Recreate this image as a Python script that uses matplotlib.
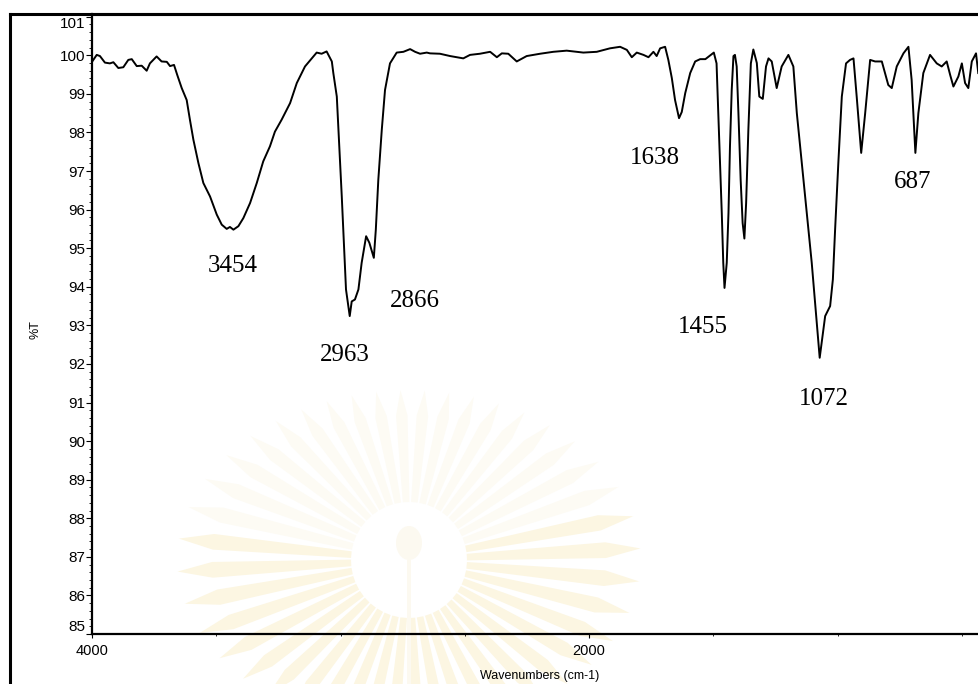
import matplotlib
matplotlib.use("Agg")
import numpy as np
import matplotlib.pyplot as plt
from matplotlib.ticker import MultipleLocator, FixedLocator
from matplotlib.lines import Line2D
from matplotlib.patches import Polygon, Ellipse

# ---- data: FT-IR spectrum (wavenumber cm-1, %T) ----
wavenumber = [4000, 3981, 3968, 3948, 3928, 3914, 3894, 3874, 3854, 3840, 3820, 3800, 3780, 3767,
              3740, 3720, 3699, 3686, 3670, 3657, 3639, 3619, 3606, 3592, 3572, 3552, 3525, 3498,
              3478, 3458, 3445, 3431, 3411, 3391, 3364, 3337, 3311, 3284, 3264, 3237, 3203, 3176,
              3143, 3109, 3096, 3076, 3056, 3035, 3029, 3015, 3005, 2995, 2986, 2978, 2963, 2955,
              2942, 2928, 2915, 2897, 2884, 2866, 2858, 2848, 2834, 2821, 2801, 2774, 2747, 2720,
              2700, 2680, 2653, 2640, 2600, 2559, 2506, 2479, 2439, 2398, 2371, 2351, 2325, 2291,
              2251, 2197, 2144, 2090, 2023, 1969, 1916, 1875, 1848, 1828, 1808, 1781, 1761, 1741,
              1728, 1714, 1694, 1681, 1667, 1654, 1638, 1627, 1613, 1593, 1573, 1553, 1532, 1512,
              1498, 1487, 1480, 1473, 1466, 1460, 1455, 1446, 1439, 1433, 1426, 1419, 1413, 1406,
              1399, 1390, 1382, 1375, 1368, 1359, 1349, 1339, 1325, 1315, 1301, 1288, 1278, 1265,
              1245, 1225, 1198, 1178, 1164, 1144, 1124, 1104, 1087, 1072, 1050, 1030, 1019, 1010,
              997, 983, 966, 950, 936, 923, 905, 889, 869, 849, 822, 796, 782, 762, 735, 715, 702,
              687, 675, 655, 628, 601, 581, 561, 547, 534, 514, 500, 487, 474, 460, 443, 434]
transmittance = [99.83, 100.01, 99.98, 99.81, 99.79, 99.82, 99.67, 99.69, 99.88, 99.90, 99.72, 99.73,
                 99.60, 99.79, 99.97, 99.84, 99.83, 99.72, 99.75, 99.49, 99.15, 98.84, 98.33, 97.81,
                 97.21, 96.69, 96.34, 95.87, 95.61, 95.50, 95.55, 95.48, 95.57, 95.78, 96.17, 96.69,
                 97.25, 97.64, 98.02, 98.33, 98.76, 99.28, 99.71, 99.97, 100.07, 100.04, 100.10, 99.84,
                 99.54, 98.93, 97.64, 96.34, 95.05, 93.93, 93.24, 93.62, 93.67, 93.93, 94.62, 95.31,
                 95.14, 94.75, 95.48, 96.77, 98.07, 99.10, 99.79, 100.07, 100.09, 100.16, 100.09,
                 100.04, 100.07, 100.05, 100.04, 99.98, 99.92, 100.01, 100.04, 100.09, 99.95, 100.05,
                 100.04, 99.84, 99.98, 100.04, 100.09, 100.12, 100.07, 100.09, 100.18, 100.22, 100.14,
                 99.95, 100.07, 100.01, 99.95, 100.09, 99.98, 100.18, 100.22, 99.88, 99.41, 98.84,
                 98.37, 98.53, 99.02, 99.54, 99.84, 99.90, 99.90, 100.00, 100.07, 99.79, 98.50, 97.21,
                 95.91, 94.62, 93.97, 94.62, 95.91, 97.64, 99.10, 99.98, 100.01, 99.71, 98.50, 96.77,
                 95.65, 95.25, 96.17, 98.07, 99.79, 100.15, 99.80, 98.93, 98.87, 99.71, 99.92, 99.84,
                 99.15, 99.71, 100.01, 99.71, 98.50, 97.21, 95.91, 94.62, 93.32, 92.16, 93.24, 93.50,
                 94.19, 95.48, 97.21, 98.93, 99.79, 99.88, 99.92, 98.92, 97.47, 98.50, 99.88, 99.84,
                 99.84, 99.23, 99.15, 99.71, 100.05, 100.22, 99.36, 97.47, 98.50, 99.54, 100.01, 99.79,
                 99.71, 99.84, 99.49, 99.19, 99.45, 99.79, 99.28, 99.15, 99.84, 100.05, 99.54]

# peak labels
peak_labels = ["3454", "2963", "2866", "1638", "1455", "1072", "687"]
label_x = [3433, 2982, 2700, 1734, 1541, 1054, 700]
label_y = [94.55, 92.22, 93.64, 97.34, 92.97, 91.08, 96.72]

y_ticks = list(range(85, 102))
x_ticks = [4000, 2000]

plt.rcParams['font.family'] = ['Liberation Sans', 'DejaVu Sans']

W, H = 979, 684
fig = plt.figure(figsize=(W / 100, H / 100), dpi=100)

# ---- very faint sunburst watermark behind the chart ----
wm = fig.add_axes([0, 0, 1, 1], zorder=0)
wm.set_xlim(0, W)
wm.set_ylim(H, 0)
wm.axis('off')
cx, cy = 409, 560
n_rays = 44
for k in range(n_rays):
    th = 2 * np.pi * k / n_rays + 0.05
    half = np.pi / n_rays * 0.8
    r0 = 58
    a, b = 232, 170
    dirx, diry = np.cos(th), -np.sin(th)
    rout = 1.0 / np.sqrt((dirx / a) ** 2 + (diry / b) ** 2)
    p1 = (cx + r0 * np.cos(th - half), cy - r0 * np.sin(th - half))
    p2 = (cx + r0 * np.cos(th + half), cy - r0 * np.sin(th + half))
    pm = (cx + rout * 0.85 * np.cos(th + half * 0.7), cy - rout * 0.85 * np.sin(th + half * 0.7))
    tip = (cx + rout * dirx, cy + rout * diry)
    pn = (cx + rout * 0.85 * np.cos(th - half * 0.7), cy - rout * 0.85 * np.sin(th - half * 0.7))
    s = np.sin(th)
    col = '#fdfbf4' if s > 0.2 else '#fcf6e2'
    wm.add_patch(Polygon([p1, pn, tip, pm, p2], closed=True, facecolor=col,
                         edgecolor='none'))
wm.add_patch(Ellipse((cx, cy - 17), 26, 34, facecolor='#fcf9f0', edgecolor='none'))
wm.add_patch(Polygon([(cx - 2, cy), (cx + 2, cy), (cx + 2, H), (cx - 2, H)],
                     facecolor='#fcf9f0', edgecolor='none'))

ax = fig.add_axes([92 / W, 1 - 634 / H, 1 - 92 / W, (634 - 14) / H], zorder=1)
ax.patch.set_alpha(0)

ax.plot(wavenumber, transmittance, color='black', lw=1.4)

ax.set_xlim(4000, 431)
ax.set_ylim(85, 101.07)

ax.xaxis.set_major_locator(FixedLocator(x_ticks))
ax.xaxis.set_minor_locator(MultipleLocator(500))
ax.yaxis.set_major_locator(FixedLocator(y_ticks))
ax.yaxis.set_minor_locator(MultipleLocator(0.2))

ax.tick_params(axis='y', which='major', direction='out', length=4, width=0.8,
               labelsize=11, pad=1)
ax.tick_params(axis='y', which='minor', direction='out', length=2, width=0.6)
ax.tick_params(axis='x', which='major', direction='out', length=3, width=0.8,
               labelsize=10.5, pad=4)
ax.tick_params(axis='x', which='minor', direction='out', length=1.5, width=0.6)

ax.set_yticklabels([str(v) for v in y_ticks])
ax.set_xticklabels([str(v) for v in x_ticks])
for lab in ax.get_yticklabels():
    if lab.get_text() == "101":
        lab.set_va('top')
    elif lab.get_text() == "85":
        lab.set_va('bottom')

ax.spines['right'].set_visible(False)
ax.spines['left'].set_linewidth(1.6)
ax.spines['bottom'].set_linewidth(1.6)
ax.spines['top'].set_linewidth(2.2)

ax.set_xlabel("Wavenumbers (cm-1)", fontsize=9)
ax.xaxis.set_label_coords((540 - 92) / (W - 92), -(676 - 634) / (634 - 14))
ax.xaxis.label.set_va('center')
ax.set_ylabel("%T", fontsize=9)
ax.yaxis.set_label_coords(-(92 - 35) / (W - 92), (634 - 330) / (634 - 14))
ax.yaxis.label.set_va('center')

for t, x, y in zip(peak_labels, label_x, label_y):
    ax.text(x, y, t, fontsize=18, family=['Liberation Serif', 'DejaVu Serif'],
            ha='center', va='center')

# outer frame (left and top)
fig.add_artist(Line2D([10 / W, 10 / W], [0, 1 - 14 / H], color='black', lw=2.2,
                      transform=fig.transFigure))
fig.add_artist(Line2D([10 / W, 1], [1 - 14 / H, 1 - 14 / H], color='black', lw=2.2,
                      transform=fig.transFigure))

fig.savefig("out.png", dpi=100)
